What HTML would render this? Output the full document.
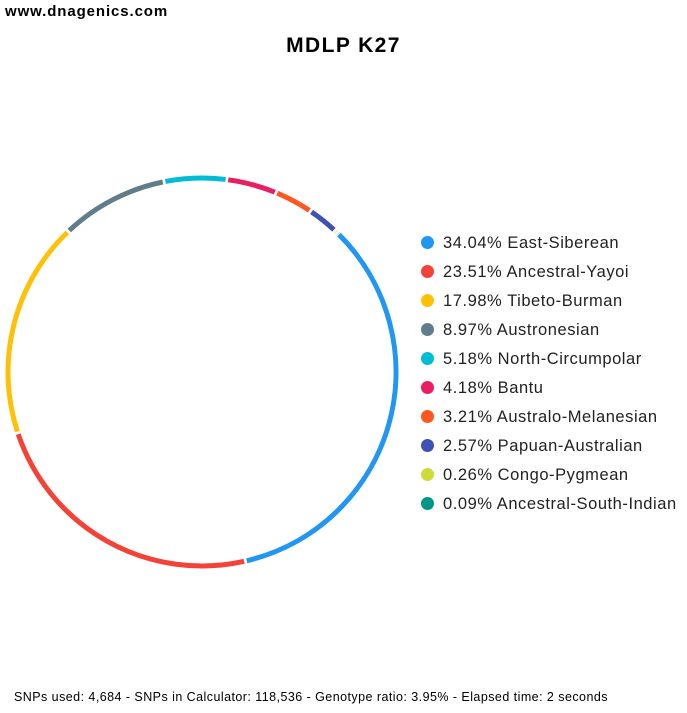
<!DOCTYPE html>
<html><head><meta charset="utf-8"><style>
body{margin:0;width:687px;height:713px;background:#fff;font-family:"Liberation Sans",sans-serif;position:relative;overflow:hidden}
.site{position:absolute;left:5px;top:3px;font-weight:bold;font-size:15px;letter-spacing:0.9px;color:#000}
.title{position:absolute;left:0;width:687px;top:34px;text-align:center;font-weight:bold;font-size:21px;letter-spacing:1.4px;color:#000;padding-left:0px}
.foot{position:absolute;left:14px;top:690px;font-size:12.5px;letter-spacing:0.45px;color:#000}
.leg{position:absolute;left:421px;top:233px;font-size:16.5px;letter-spacing:0.55px;color:#222}
.leg div{height:29px;line-height:21px;white-space:nowrap}
.leg span{display:inline-block;width:13px;height:13px;border-radius:50%;vertical-align:-1px;margin-right:9px}
</style></head><body>
<div class="site">www.dnagenics.com</div>
<div class="title">MDLP K27</div>
<svg width="687" height="713" style="position:absolute;left:0;top:0" id="s"></svg>
<div class="leg">
<div><span style="background:#2196f3"></span>34.04% East-Siberean</div>
<div><span style="background:#f44336"></span>23.51% Ancestral-Yayoi</div>
<div><span style="background:#ffc107"></span>17.98% Tibeto-Burman</div>
<div><span style="background:#607d8b"></span>8.97% Austronesian</div>
<div><span style="background:#00bcd4"></span>5.18% North-Circumpolar</div>
<div><span style="background:#e91e63"></span>4.18% Bantu</div>
<div><span style="background:#ff5722"></span>3.21% Australo-Melanesian</div>
<div><span style="background:#3f51b5"></span>2.57% Papuan-Australian</div>
<div><span style="background:#cddc39"></span>0.26% Congo-Pygmean</div>
<div><span style="background:#009688"></span>0.09% Ancestral-South-Indian</div>
</div>
<div class="foot">SNPs used: 4,684 - SNPs in Calculator: 118,536 - Genotype ratio: 3.95% - Elapsed time: 2 seconds</div>
<script>
var d=[[34.04,"#2196f3"],[23.51,"#f44336"],[17.98,"#ffc107"],[8.97,"#607d8b"],[5.18,"#00bcd4"],[4.18,"#e91e63"],[3.21,"#ff5722"],[2.57,"#3f51b5"],[0.26,"#cddc39"],[0.09,"#009688"]];
var tot=0;d.forEach(function(x){tot+=x[0]});
var cx=202,cy=372,r=194,a=44.5,h="";
function p(t){var rad=t*Math.PI/180;return (cx+r*Math.sin(rad)).toFixed(2)+","+(cy-r*Math.cos(rad)).toFixed(2)}
d.forEach(function(x){var s=x[0]/tot*360;var a0=a+0.4,a1=a+s-0.4;if(a1<=a0)a1=a0+0.05;
h+='<path d="M'+p(a0)+' A'+r+','+r+' 0 '+(a1-a0>180?1:0)+' 1 '+p(a1)+'" fill="none" stroke="'+x[1]+'" stroke-width="5"/>';a+=s;});
document.getElementById("s").innerHTML=h;
</script>
</body></html>
